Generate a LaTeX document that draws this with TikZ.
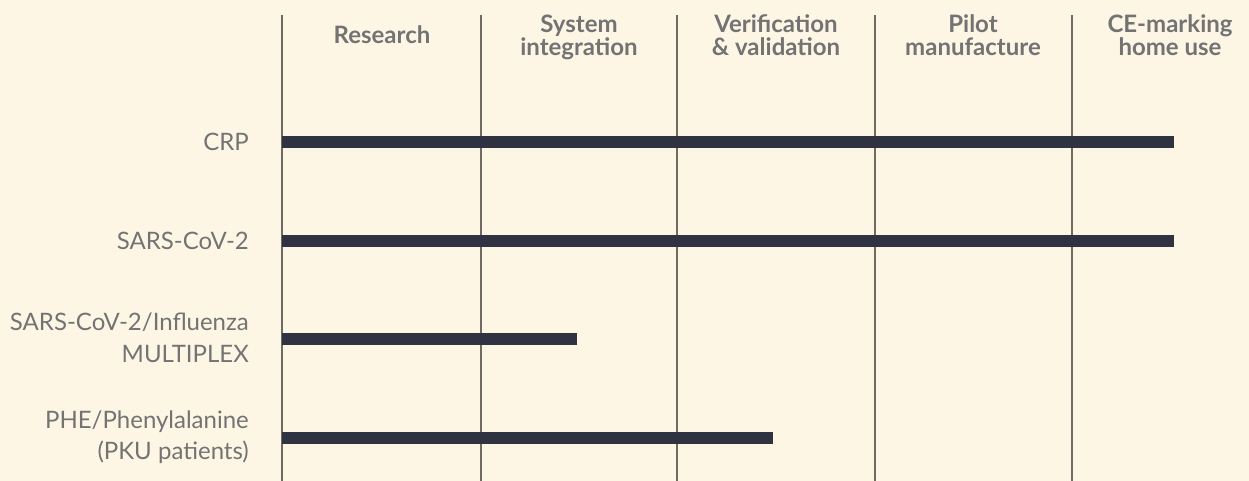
\documentclass[tikz,border=0pt]{standalone}
\usepackage{fontspec}
\setmainfont{Lato}

\definecolor{paper}{HTML}{FEF6E5}
\definecolor{ink}{HTML}{737373}
\definecolor{rulec}{HTML}{6E6A64}
\definecolor{barc}{HTML}{2F3241}

\begin{document}
\begin{tikzpicture}[x=1pt, y=-1pt,
		phase/.style = {font=\fontsize{24}{23.3}\selectfont\bfseries, text=ink, align=center, inner sep=0pt},
		test/.style = {font=\fontsize{24}{31.5}\selectfont, text=ink, align=right, anchor=east, inner sep=0pt},
		bar/.style = {draw=barc, line width=12pt}]
	\fill[paper] (0,0) rectangle (1249,481);
	\useasboundingbox (0,0) rectangle (1249,481);

	% column dividers
	\foreach \i/\x in {0/282,1/481,2/677,3/875,4/1072}{
		\coordinate (t\i) at (\x,15);
		\coordinate (b\i) at (\x,481);
		\draw[rulec, line width=1.5pt] (t\i) -- (b\i);
	}

	% phases
	\node[phase] (research) at (382,35) {Research};
	\node[phase] (integr) at (579,37.5) {System\\integration};
	\node[phase] (verif) at (776,35) {Verification\\\& validation};
	\node[phase] (pilot) at (973,35) {Pilot\\manufacture};
	\node[phase] (cemark) at (1170,35) {CE-marking\\home use};

	% tests
	\node[test] (crp) at (249,142) {CRP};
	\node[test] (sars) at (249,241) {SARS-CoV-2};
	\node[test] (multi) at (249,338) {SARS-CoV-2/Influenza\\MULTIPLEX};
	\node[test] (phe) at (249,437) {PHE/Phenylalanine\\(PKU patients)};

	% progress bars
	\foreach \n/\y/\e in {crp/142/1174, sars/241/1174, multi/339/577, phe/438/773}{
		\coordinate (\n0) at (282,\y);
		\coordinate (\n1) at (\e,\y);
		\draw[bar] (\n0) -- (\n1);
	}
\end{tikzpicture}
\end{document}
